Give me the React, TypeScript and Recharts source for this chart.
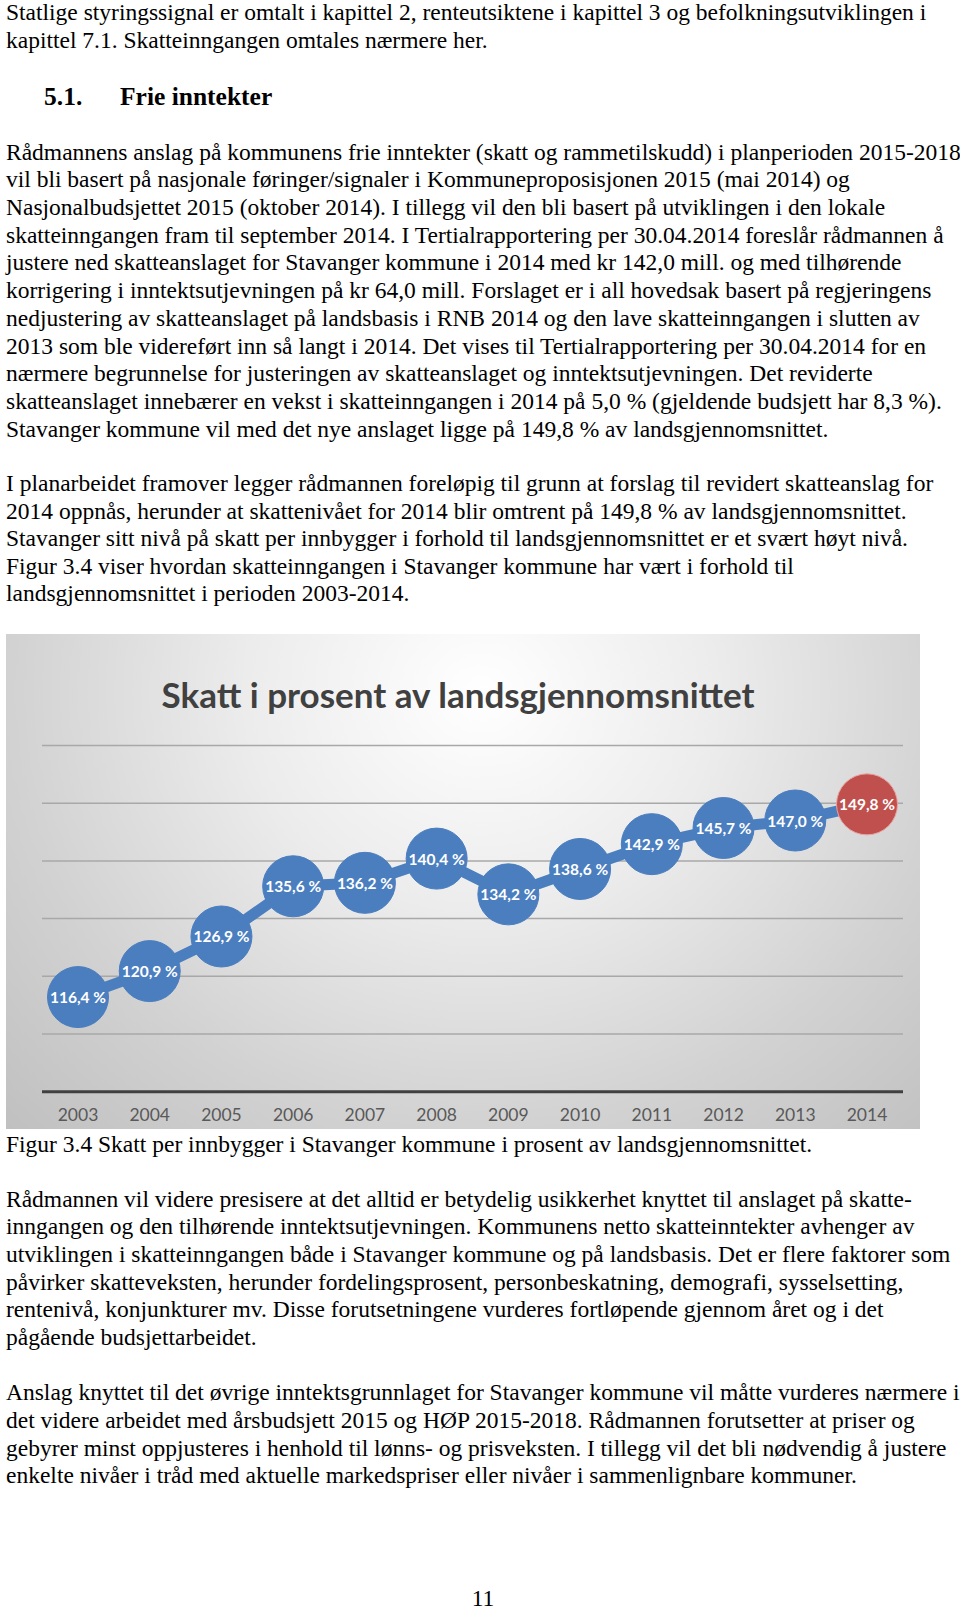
import React from 'react';
import { LineChart, Line, XAxis, YAxis, CartesianGrid } from 'recharts';

// ---------- chart data ----------
const years = ['2003', '2004', '2005', '2006', '2007', '2008', '2009', '2010', '2011', '2012', '2013', '2014'];
const values = [116.4, 120.9, 126.9, 135.6, 136.2, 140.4, 134.2, 138.6, 142.9, 145.7, 147.0, 149.8];
const highlightYear = '2014';
const yTicks = [100, 110, 120, 130, 140, 150, 160];
const chartTitle = 'Skatt i prosent av landsgjennomsnittet';

// ---------- page text ----------
const para1 = [
  'Statlige styringssignal er omtalt i kapittel 2, renteutsiktene i kapittel 3 og befolkningsutviklingen i',
  'kapittel 7.1. Skatteinngangen omtales nærmere her.',
];
const headingNumber = '5.1.';
const headingText = 'Frie inntekter';
const para2 = [
  'Rådmannens anslag på kommunens frie inntekter (skatt og rammetilskudd) i planperioden 2015-2018',
  'vil bli basert på nasjonale føringer/signaler i Kommuneproposisjonen 2015 (mai 2014) og',
  'Nasjonalbudsjettet 2015 (oktober 2014). I tillegg vil den bli basert på utviklingen i den lokale',
  'skatteinngangen fram til september 2014. I Tertialrapportering per 30.04.2014 foreslår rådmannen å',
  'justere ned skatteanslaget for Stavanger kommune i 2014 med kr 142,0 mill. og med tilhørende',
  'korrigering i inntektsutjevningen på kr 64,0 mill. Forslaget er i all hovedsak basert på regjeringens',
  'nedjustering av skatteanslaget på landsbasis i RNB 2014 og den lave skatteinngangen i slutten av',
  '2013 som ble videreført inn så langt i 2014. Det vises til Tertialrapportering per 30.04.2014 for en',
  'nærmere begrunnelse for justeringen av skatteanslaget og inntektsutjevningen. Det reviderte',
  'skatteanslaget innebærer en vekst i skatteinngangen i 2014 på 5,0 % (gjeldende budsjett har 8,3 %).',
  'Stavanger kommune vil med det nye anslaget ligge på 149,8 % av landsgjennomsnittet.',
];
const para3 = [
  'I planarbeidet framover legger rådmannen foreløpig til grunn at forslag til revidert skatteanslag for',
  '2014 oppnås, herunder at skattenivået for 2014 blir omtrent på 149,8 % av landsgjennomsnittet.',
  'Stavanger sitt nivå på skatt per innbygger i forhold til landsgjennomsnittet er et svært høyt nivå.',
  'Figur 3.4 viser hvordan skatteinngangen i Stavanger kommune har vært i forhold til',
  'landsgjennomsnittet i perioden 2003-2014.',
];
const caption = 'Figur 3.4 Skatt per innbygger i Stavanger kommune i prosent av landsgjennomsnittet.';
const para4 = [
  'Rådmannen vil videre presisere at det alltid er betydelig usikkerhet knyttet til anslaget på skatte-',
  'inngangen og den tilhørende inntektsutjevningen. Kommunens netto skatteinntekter avhenger av',
  'utviklingen i skatteinngangen både i Stavanger kommune og på landsbasis. Det er flere faktorer som',
  'påvirker skatteveksten, herunder fordelingsprosent, personbeskatning, demografi, sysselsetting,',
  'rentenivå, konjunkturer mv. Disse forutsetningene vurderes fortløpende gjennom året og i det',
  'pågående budsjettarbeidet.',
];
const para5 = [
  'Anslag knyttet til det øvrige inntektsgrunnlaget for Stavanger kommune vil måtte vurderes nærmere i',
  'det videre arbeidet med årsbudsjett 2015 og HØP 2015-2018. Rådmannen forutsetter at priser og',
  'gebyrer minst oppjusteres i henhold til lønns- og prisveksten. I tillegg vil det bli nødvendig å justere',
  'enkelte nivåer i tråd med aktuelle markedspriser eller nivåer i sammenlignbare kommuner.',
];
const pageNumber = '11';

// ---------- layout ----------
const SERIF = '"Liberation Serif", "Times New Roman", serif';
const BODY_SIZE = 23.5;
const HEAD_SIZE = 25.5;
const BLUE = '#4a7ebf';
const RED = '#c0504d';

const data = years.map((year, i) => ({ year, value: values[i] }));

function TextLine({ text, baseline, size = BODY_SIZE, bold = false, left = 6 }: any) {
  const top = baseline - 0.8375 * size;
  return (
    <div
      style={{
        position: 'absolute',
        left,
        top,
        fontFamily: SERIF,
        fontSize: size,
        lineHeight: 1,
        fontWeight: bold ? 700 : 400,
        whiteSpace: 'nowrap',
        color: '#000',
      }}
    >
      {text}
    </div>
  );
}

function Paragraph({ lines, start, step }: any) {
  return (
    <>
      {lines.map((t: string, i: number) => (
        <TextLine key={i} text={t} baseline={start + i * step} />
      ))}
    </>
  );
}

const fmt = (v: number) => v.toFixed(1).replace('.', ',') + ' %';

function Bubble(props: any) {
  const { cx, cy, payload, index } = props;
  if (cx == null || cy == null) return null;
  const isHi = payload.year === highlightYear;
  const fill = isHi ? RED : BLUE;
  return (
    <g key={'dot' + index}>
      <circle cx={cx} cy={cy} r={30.5} fill={fill} stroke={isHi ? '#e9a3a1' : fill} strokeWidth={1} />
      <text
        x={cx}
        y={cy}
        textAnchor="middle"
        dominantBaseline="central"
        fill="#ffffff"
        fontFamily="Lato, sans-serif"
        fontWeight={700}
        fontSize={15.5}
      >
        {fmt(payload.value)}
      </text>
    </g>
  );
}

function YearTick(props: any) {
  const { x, y, payload } = props;
  return (
    <text
      x={x}
      y={y + 23}
      textAnchor="middle"
      dominantBaseline="central"
      fill="#595959"
      fontFamily="Lato, sans-serif"
      fontSize={17.5}
    >
      {payload.value}
    </text>
  );
}

function Chart() {
  const W = 914;
  const H = 495;
  return (
    <div
      style={{
        position: 'absolute',
        left: 6,
        top: 634,
        width: W,
        height: H,
        background:
          'radial-gradient(farthest-corner at 52% 12%, #ffffff 0%, #ececec 35%, #d2d2d2 70%, #c0c0c0 100%)',
      }}
    >
      <svg width={W} height={110} style={{ position: 'absolute', left: 0, top: 0 }}>
        <text
          x={452}
          y={74}
          textAnchor="middle"
          fill="#404040"
          fontFamily="Lato, sans-serif"
          fontWeight={700}
          fontSize={35}
        >
          {chartTitle}
        </text>
      </svg>
      <div style={{ position: 'absolute', left: 0, top: 0 }}>
        <LineChart width={W} height={H} data={data} margin={{ top: 111.5, right: 17, bottom: 7.3, left: 36 }}>
          <CartesianGrid vertical={false} stroke="#a8a8a8" strokeWidth={1.5} />
          <YAxis hide domain={[100, 160]} ticks={yTicks} />
          <XAxis
            dataKey="year"
            interval={0}
            height={30}
            padding={{ left: 36, right: 36 }}
            tickLine={false}
            tickSize={0}
            tickMargin={0}
            axisLine={{ stroke: '#404040', strokeWidth: 3 }}
            tick={<YearTick />}
          />
          <Line
            type="linear"
            dataKey="value"
            stroke={BLUE}
            strokeWidth={11}
            dot={<Bubble />}
            activeDot={false}
            isAnimationActive={false}
          />
        </LineChart>
      </div>
    </div>
  );
}

export default function App() {
  return (
    <div
      style={{
        position: 'absolute',
        left: 0,
        top: 0,
        width: 960,
        height: 1610,
        background: '#ffffff',
        overflow: 'hidden',
      }}
    >
      <Paragraph lines={para1} start={20.6} step={27.7} />
      <TextLine text={headingNumber} baseline={105} size={HEAD_SIZE} bold left={44} />
      <TextLine text={headingText} baseline={105} size={HEAD_SIZE} bold left={120} />
      <Paragraph lines={para2} start={160.3} step={27.72} />
      <Paragraph lines={para3} start={491.9} step={27.45} />
      <Chart />
      <TextLine text={caption} baseline={1153} />
      <Paragraph lines={para4} start={1207.2} step={27.7} />
      <Paragraph lines={para5} start={1401} step={27.7} />
      <div
        style={{
          position: 'absolute',
          left: 0,
          width: 966,
          top: 1607 - 0.8375 * BODY_SIZE,
          textAlign: 'center',
          fontFamily: SERIF,
          fontSize: BODY_SIZE,
          lineHeight: 1,
        }}
      >
        {pageNumber}
      </div>
    </div>
  );
}
